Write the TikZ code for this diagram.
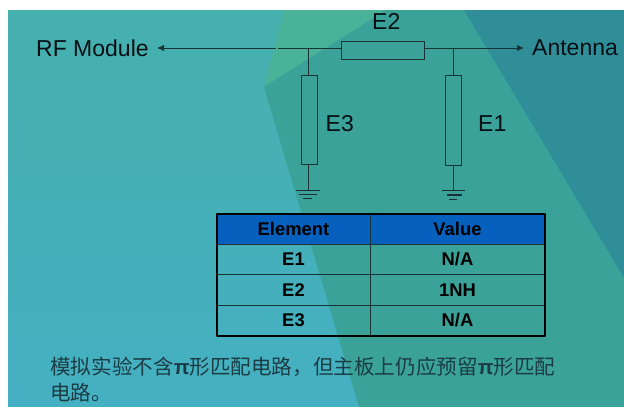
\documentclass[tikz,border=0pt]{standalone}
\usepackage{fontspec}
\setmainfont{Liberation Sans}
\newfontfamily\cjk{Noto Sans CJK SC}
\usetikzlibrary{arrows.meta}
\definecolor{bgA}{HTML}{46B0AE}
\definecolor{bgB}{HTML}{45B0C2}
\definecolor{polyL}{HTML}{4BB29A}
\definecolor{polyM}{HTML}{3AA299}
\definecolor{polyD}{HTML}{2F8E98}
\definecolor{hdr}{HTML}{0660BE}
\definecolor{wire}{HTML}{1A3234}
\definecolor{ink}{HTML}{050F14}
\definecolor{cjkink}{HTML}{1C3C44}
\tikzset{
  x=1pt,y=-1pt,
  part/.style={draw=wire,line width=1pt,inner sep=0pt,minimum width=#1},
  wireline/.style={draw=wire,line width=1pt},
  arrowline/.style={wireline,-{Latex[length=7pt,width=6.5pt]}},
  lab/.style={text=ink,font=\fontsize{23}{25}\selectfont,inner sep=0pt},
  th/.style={text=black,font=\fontsize{18.4}{20}\selectfont\bfseries,inner sep=0pt},
  cjktext/.style={text=cjkink,font=\fontsize{20.6}{24}\selectfont\cjk,inner sep=0pt,anchor=base west},
  tgrid/.style={draw=wire,line width=1pt},
  tframe/.style={draw=black,line width=2pt},
  gnd/.style={draw=wire,line width=#1}
}
\begin{document}
\begin{tikzpicture}
\useasboundingbox (0,0) rectangle (624,407);
\fill[white] (0,0) rectangle (624,407);
\shade[top color=bgA,bottom color=bgB] (8,10) rectangle (624,407);
\fill[polyL] (284,10) -- (264,87) -- (386,10) -- cycle;
\fill[polyM] (386,10) -- (264,87) -- (359,407) -- (624,407) -- (624,10) -- cycle;
\fill[polyD] (464,10) -- (624,10) -- (624,278) -- cycle;
% parts
\node[part=83pt,minimum height=17.5pt] (e2) at (383,50.5) {};
\node[part=16.5pt,minimum height=89pt] (e3) at (309.5,119.5) {};
\node[part=16.5pt,minimum height=90pt] (e1) at (453.5,120) {};
% junctions and ends
\coordinate (jl) at (308,48);
\coordinate (jr) at (453,48);
\coordinate (lstub) at (278,48);
\coordinate (lgap) at (276,48);
\coordinate (lend) at (157,48);
\coordinate (rend) at (524,48);
\coordinate (g3) at (308,190);
\coordinate (g1) at (453,190.5);
\draw[arrowline] (lgap) -- (lend);
\draw[wireline] (lstub) -- (e2.west |- lstub);
\draw[arrowline] (e2.east |- jr) -- (rend);
\draw[wireline] (jl) -- (jl |- e3.north);
\draw[wireline] (jr) -- (jr |- e1.north);
\draw[wireline] (jl |- e3.south) -- (g3);
\draw[wireline] (jr |- e1.south) -- (g1);
% grounds
\draw[gnd=1pt] (296,190) -- (320,190);
\draw[gnd=1pt] (299,194.5) -- (317,194.5);
\draw[gnd=1pt] (303,198.8) -- (312,198.8);
\draw[gnd=1.4pt] (442,190.5) -- (465,190.5);
\draw[gnd=1.3pt] (447,195) -- (462,195);
\draw[gnd=1.2pt] (449,199.5) -- (457,199.5);
% labels
\node[lab,anchor=base west] (rf) at (36,56) {RF Module};
\node[lab,anchor=base west] (ant) at (532,55.5) {Antenna};
\node[lab,anchor=base west] (le2) at (372,29.5) {E2};
\node[lab,anchor=base west] (le3) at (325.5,131) {E3};
\node[lab,anchor=base west] (le1) at (478,131) {E1};
% table
\fill[hdr] (217,213.5) rectangle (544.5,244);
\draw[tgrid] (217,244) -- (544.5,244);
\draw[tgrid] (217,274.5) -- (544.5,274.5);
\draw[tgrid] (217,305.5) -- (544.5,305.5);
\draw[tgrid] (370.5,213.5) -- (370.5,336);
\draw[tframe,line join=round] (217,213.5) rectangle (544.5,336);
\foreach \n/\t/\y in {a/Element/229,b/E1/259.5,c/E2/290,d/E3/320.5}{
  \node[th] (c\n) at (293.5,\y) {\t};
}
\foreach \n/\t/\y in {a/Value/229,b/N\slash A/259.5,c/1NH/290,d/N\slash A/320.5}{
  \node[th] (v\n) at (457.5,\y) {\t};
}
% note
\node[cjktext] (n1) at (50,374.5) {模拟实验不含{\rmfamily\bfseries π}形匹配电路，但主板上仍应预留{\rmfamily\bfseries π}形匹配};
\node[cjktext] (n2) at (50,400) {电路。};
\end{tikzpicture}
\end{document}
